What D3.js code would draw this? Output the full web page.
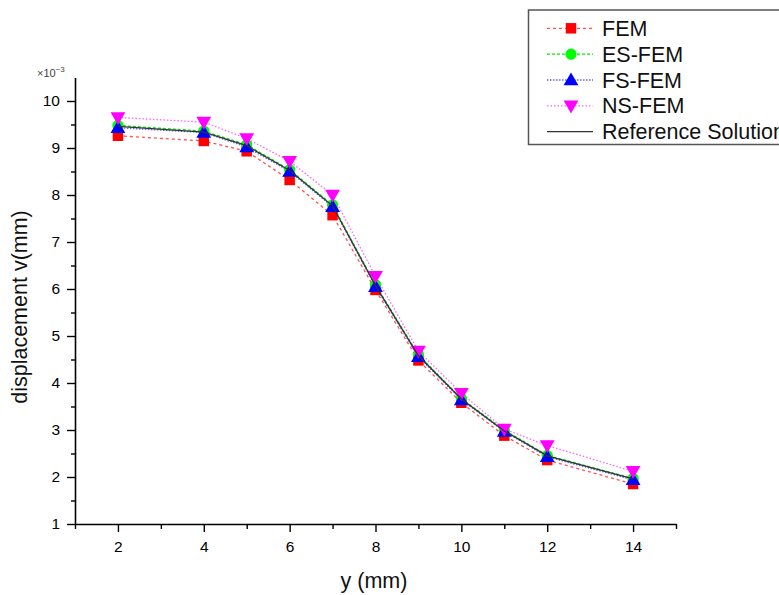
<!DOCTYPE html>
<html><head><meta charset="utf-8">
<script src="https://cdn.jsdelivr.net/npm/d3@7"></script>
<style>body{margin:0;background:#fff;overflow:hidden;} svg{display:block;font-family:"Liberation Sans",Arial,sans-serif;}</style>
</head><body>
<svg id="c" width="779" height="595"></svg>
<script>
const xValues = [2, 4, 5, 6, 7, 8, 9, 10, 11, 12, 14];
const femValues   = [9.26, 9.15, 8.93, 8.32, 7.57, 5.98, 4.48, 3.58, 2.88, 2.36, 1.85];
const esFemValues = [9.48, 9.36, 9.07, 8.54, 7.79, 6.09, 4.60, 3.67, 3.00, 2.46, 1.97];
const fsFemValues = [9.43, 9.33, 9.02, 8.50, 7.75, 6.05, 4.56, 3.64, 2.97, 2.43, 1.94];
const nsFemValues = [9.65, 9.55, 9.20, 8.72, 8.00, 6.27, 4.68, 3.78, 3.02, 2.67, 2.12];
const refValues   = [9.46, 9.34, 9.05, 8.52, 7.77, 6.07, 4.58, 3.66, 2.98, 2.45, 1.96];
const xTicks = [2, 4, 6, 8, 10, 12, 14];
const xMinorTicks = [1, 3, 5, 7, 9, 11, 13, 15];
const yTicks = [1, 2, 3, 4, 5, 6, 7, 8, 9, 10];
const yMinorTicks = [1.5, 2.5, 3.5, 4.5, 5.5, 6.5, 7.5, 8.5, 9.5];

const series = [
  {name: "FEM", values: femValues, color: "#ff0000", line: "#ff5050", dash: "3,3", marker: "square"},
  {name: "ES-FEM", values: esFemValues, color: "#00ff00", line: "#00ee00", dash: "3,2", marker: "circle"},
  {name: "FS-FEM", values: fsFemValues, color: "#0000ff", line: "#6060ff", dash: "1.5,1.5", marker: "triangle"},
  {name: "NS-FEM", values: nsFemValues, color: "#ff00ff", line: "#ff60ff", dash: "1.5,2", marker: "triangledown"},
];

const svg = d3.select("#c");
const x = d3.scaleLinear().domain([1, 15]).range([75, 676]);
const y = d3.scaleLinear().domain([1, 10.5]).range([524, 77.5]);

svg.append("g").attr("transform", "translate(0,524)")
  .call(d3.axisBottom(x).tickValues(xTicks).tickSize(8).tickSizeOuter(0).tickPadding(9));
svg.append("g").attr("transform", "translate(0,524)")
  .call(d3.axisBottom(x).tickValues(xMinorTicks).tickSize(5).tickFormat("").tickSizeOuter(0))
  .select(".domain").remove();
svg.append("g").attr("transform", "translate(75,0)")
  .call(d3.axisLeft(y).tickValues(yTicks).tickSize(8).tickSizeOuter(0).tickPadding(7));
svg.append("g").attr("transform", "translate(75,0)")
  .call(d3.axisLeft(y).tickValues(yMinorTicks).tickSize(4).tickFormat("").tickSizeOuter(0))
  .select(".domain").remove();
svg.selectAll(".domain").attr("stroke", "#000").attr("stroke-width", 1.6);
svg.selectAll(".tick line").attr("stroke", "#000").attr("stroke-width", 1.4);
svg.selectAll(".tick text").attr("font-size", 15.5).attr("fill", "#000")
  .attr("font-family", "'Liberation Sans',Arial,sans-serif");

const ex = svg.append("text").attr("x", 37).attr("y", 77).attr("font-size", 11).attr("fill", "#444");
ex.append("tspan").text("×10");
ex.append("tspan").attr("dy", -5).attr("font-size", 8).text("−3");

svg.append("text").attr("transform", "translate(27,307) rotate(-90)").attr("text-anchor", "middle")
  .attr("font-size", 21.5).attr("fill", "#111").text("displacement v(mm)");
svg.append("text").attr("x", 374).attr("y", 588).attr("text-anchor", "middle")
  .attr("font-size", 21.5).attr("fill", "#111").text("y (mm)");

const symbols = {
  square: d3.symbol().type(d3.symbolSquare).size(110),
  circle: d3.symbol().type(d3.symbolCircle).size(100),
  triangle: d3.symbol().type(d3.symbolTriangle).size(95),
  triangledown: d3.symbol().type(d3.symbolTriangle).size(95)
};
function drawMarker(g, type, cx, cy, color) {
  const p = g.append("path").attr("d", symbols[type]()).attr("fill", color);
  if (type === "triangle") p.attr("transform", `translate(${cx},${cy + 1})`);
  else if (type === "triangledown") p.attr("transform", `translate(${cx},${cy - 1}) rotate(180)`);
  else p.attr("transform", `translate(${cx},${cy})`);
}

const line = d3.line().x(d => x(d[0])).y(d => y(d[1]));
const plot = svg.append("g");
series.forEach(s => {
  const pts = xValues.map((v, i) => [v, s.values[i]]);
  plot.append("path").attr("d", line(pts)).attr("fill", "none")
    .attr("stroke", s.line).attr("stroke-width", 1.3).attr("stroke-dasharray", s.dash);
});
series.forEach(s => {
  xValues.forEach((v, i) => drawMarker(plot, s.marker, x(v), y(s.values[i]), s.color));
});
plot.append("path").attr("d", line(xValues.map((v, i) => [v, refValues[i]])))
  .attr("fill", "none").attr("stroke", "#333").attr("stroke-width", 1.3);

const lg = svg.append("g");
lg.append("rect").attr("x", 528.5).attr("y", 10).attr("width", 320).attr("height", 134.5)
  .attr("fill", "#fff").attr("stroke", "#555").attr("stroke-width", 1.5);
const entries = series.concat([{name: "Reference Solution", line: "#333", dash: null, marker: null}]);
entries.forEach((s, i) => {
  const cy = 28.3 + i * 25.85;
  const l = lg.append("line").attr("x1", 547).attr("x2", 593).attr("y1", cy).attr("y2", cy)
    .attr("stroke", s.line).attr("stroke-width", 1.3);
  if (s.dash) l.attr("stroke-dasharray", s.dash);
  if (s.marker) drawMarker(lg, s.marker, 571, cy, s.color);
  lg.append("text").attr("x", 602).attr("y", cy + 7.5).attr("font-size", 21.5).attr("fill", "#111").text(s.name);
});
</script>
</body></html>
